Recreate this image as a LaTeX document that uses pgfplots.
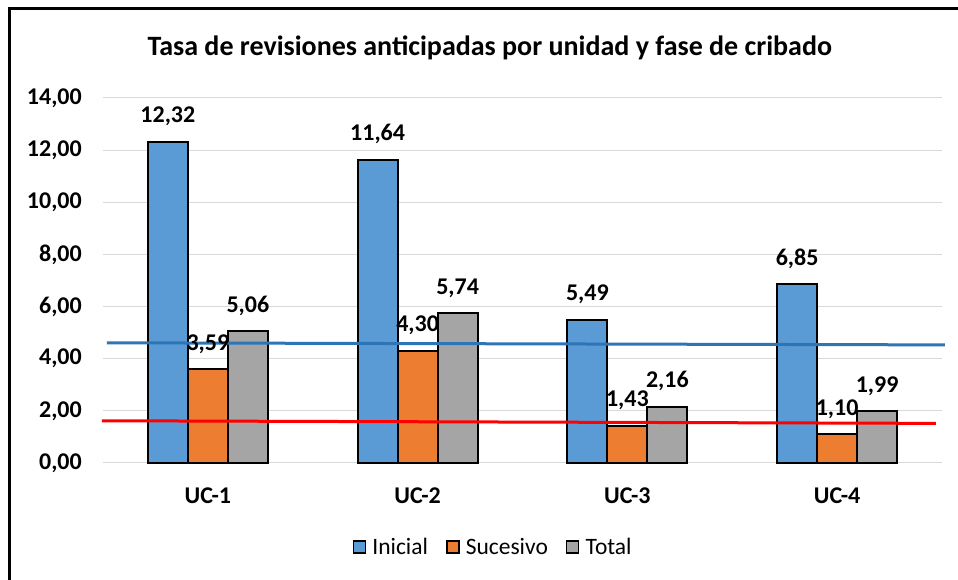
\documentclass[border=0pt]{standalone}
\usepackage{pgfplots}
\pgfplotsset{compat=1.18}
\usepackage{fontspec}
\setmainfont{Carlito}
\definecolor{cBlue}{HTML}{5B9BD5}
\definecolor{cOrange}{HTML}{ED7D31}
\definecolor{cGray}{HTML}{A5A5A5}
\definecolor{cLine}{HTML}{2E75B6}
\definecolor{cGrid}{HTML}{D9D9D9}
\pgfplotsset{sqleg/.style={legend image code/.code={\draw[##1,line width=1.5pt] (0pt,-6pt) rectangle (12pt,6pt); \path (16pt,0pt);}}}
\begin{document}
\begin{tikzpicture}
\path[use as bounding box] (0,0) rectangle (958pt,580pt);
\begin{scope}
\clip (0,0) rectangle (958pt,580pt);
\draw[line width=3pt] (9pt,-20pt) rectangle (990pt,571pt);
\end{scope}
\begin{axis}[
  at={(103pt,117pt)}, anchor=south west,
  scale only axis, width=839pt, height=365pt,
  xmin=-0.5, xmax=3.5, ymin=0, ymax=14,
  ytick={0,2,...,14},
  xtick={0,1,2,3},
  xticklabels={UC-1,UC-2,UC-3,UC-4},
  ymajorgrids, grid style={cGrid, line width=1pt},
  axis line style={draw=none},
  major tick length=0pt,
  clip=false,
  /pgf/number format/.cd, fixed, fixed zerofill, precision=2, use comma, assume math mode=true,
  /pgfplots/.cd,
  tick label style={font=\fontsize{24}{28}\selectfont\bfseries},
  yticklabel style={anchor=east, inner sep=0pt, xshift=-21pt},
  xticklabel style={anchor=center, yshift=-33pt},
  title={Tasa de revisiones anticipadas por unidad y fase de cribado},
  title style={at={(0.461,1.12)}, anchor=center, font=\fontsize{28}{33}\selectfont\bfseries},
  legend style={at={(0.465,-0.23)}, anchor=center, draw=none, legend columns=3,
    font=\fontsize{23.5}{28}\selectfont,
    /tikz/every even column/.append style={column sep=16pt}},
  every node near coord/.append style={font=\fontsize{24}{28}\selectfont\bfseries, anchor=base, yshift=19pt, text=black},
]
\addplot[ybar, bar width=40pt, bar shift=-40pt, fill=cBlue, draw=black, line width=2pt,
  nodes near coords, every node near coord/.append style={xshift=-40pt}, sqleg]
  coordinates {(0,12.32) (1,11.64) (2,5.49) (3,6.85)};
\addlegendentry{Inicial}
\addplot[ybar, bar width=40pt, bar shift=0pt, fill=cOrange, draw=black, line width=2pt,
  nodes near coords, sqleg]
  coordinates {(0,3.59) (1,4.30) (2,1.43) (3,1.10)};
\addlegendentry{Sucesivo}
\addplot[ybar, bar width=40pt, bar shift=40pt, fill=cGray, draw=black, line width=2pt,
  nodes near coords, every node near coord/.append style={xshift=40pt}, sqleg]
  coordinates {(0,5.06) (1,5.74) (2,2.16) (3,1.99)};
\addlegendentry{Total}
\addplot[sharp plot, no marks, draw=cLine, line width=3pt, forget plot]
  coordinates {(-0.481,4.61) (3.514,4.53)};
\addplot[sharp plot, no marks, draw=red, line width=3pt, forget plot]
  coordinates {(-0.505,1.62) (3.471,1.52)};
\end{axis}
\end{tikzpicture}
\end{document}
